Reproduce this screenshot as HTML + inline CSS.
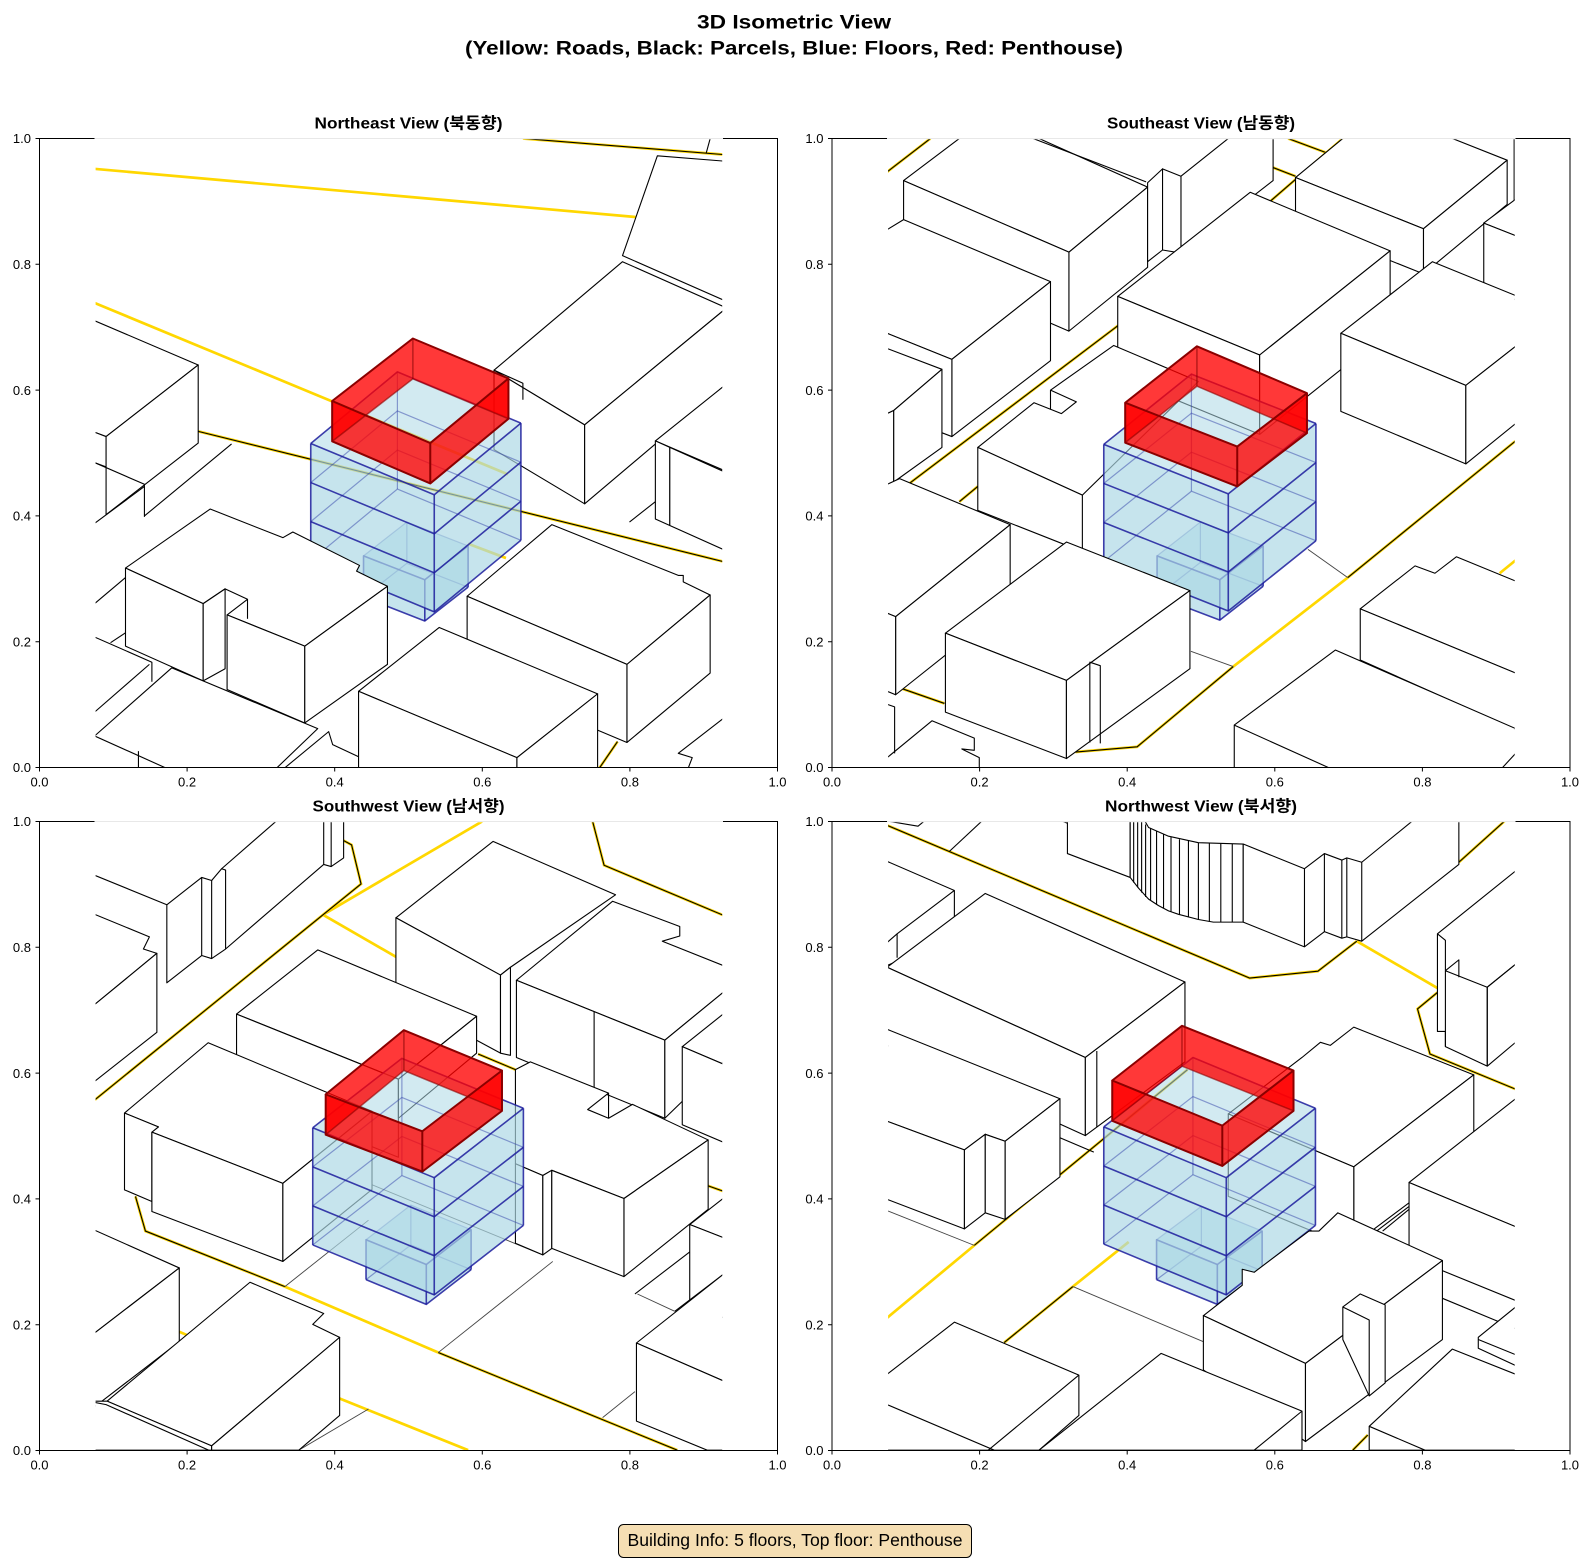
<!DOCTYPE html>
<html><head><meta charset="utf-8">
<style>
html,body{margin:0;padding:0;background:#fff;}
body{width:1590px;height:1560px;overflow:hidden;}
svg{display:block;}
text{font-family:"Liberation Sans","Noto Sans CJK KR",sans-serif;fill:#000;}
.p *{vector-effect:non-scaling-stroke;}
.w{fill:#fff;stroke:#000;stroke-width:1.1;stroke-linejoin:round;}
.wf{fill:#fff;stroke:none;}
.k{fill:none;stroke:#000;stroke-width:1.1;stroke-linejoin:round;}
.g{fill:none;stroke:#444;stroke-width:0.9;}
.y{fill:none;stroke:#FFD700;stroke-width:2.7;}
.bs{fill:#add8e6;fill-opacity:.55;stroke:none;}
.bf{fill:#add8e6;fill-opacity:.3;stroke:none;}
.bb{fill:none;stroke:#3344aa;stroke-opacity:.5;stroke-width:1.2;}
.bl{fill:none;stroke:#1c1c9c;stroke-opacity:.85;stroke-width:1.6;stroke-linejoin:round;}
.rw{fill:#ff0000;fill-opacity:.78;stroke:none;}
.re{fill:none;stroke:#8b0000;stroke-width:2;stroke-linejoin:round;}
.rb{fill:none;stroke:#8b0000;stroke-opacity:.6;stroke-width:1.5;}
.ax{fill:none;stroke:#000;stroke-width:1;}
.tl{font-size:13px;}
</style></head><body>
<svg width="1590" height="1560" viewBox="0 0 1590 1560" xmlns="http://www.w3.org/2000/svg">
<defs>
<clipPath id="c1"><rect x="95.6" y="139.3" width="626.6" height="628.2"/></clipPath>
<clipPath id="c2"><rect x="888.1" y="139.3" width="626.6" height="628.2"/></clipPath>
<clipPath id="c3"><rect x="95.6" y="822.3" width="626.6" height="627.7"/></clipPath>
<clipPath id="c4"><rect x="888.1" y="822.3" width="626.6" height="627.7"/></clipPath>
</defs>

<!-- Main title -->
<text x="794" y="28.3" text-anchor="middle" font-size="19.4" font-weight="bold" textLength="194" lengthAdjust="spacingAndGlyphs">3D Isometric View</text>
<text x="794" y="54.6" text-anchor="middle" font-size="19.4" font-weight="bold" textLength="658" lengthAdjust="spacingAndGlyphs">(Yellow: Roads, Black: Parcels, Blue: Floors, Red: Penthouse)</text>

<!-- ================= PANEL 1 (NE) ================= -->
<g clip-path="url(#c1)"><g class="p" transform="matrix(0.498 0 0 0.4339 0 100.3)">
<polyline class="y" points="190,158 1276,269"/>
<polyline class="y" points="190,467 1020,862"/>
<polyline class="y" points="940,1022 1016,1055"/>
<polyline class="y" points="398,763 1452,1063"/><polyline class="k" points="398,763 1452,1063"/>
<polyline class="y" points="1050,88 1452,125"/><polyline class="k" points="1050,88 1452,125"/>
<polyline class="y" points="1200,1545 1240,1478"/><polyline class="k" points="1200,1545 1240,1478"/>

<polygon class="w" points="1320,128 1452,140 1452,460 1250,358"/>
<polyline class="k" points="1418,122 1428,80"/>
<polygon class="w" points="992,622 1250,372 1452,475 1452,485 1174,748"/>
<polygon class="w" points="992,622 1174,748 1174,930 992,805"/>
<polygon class="w" points="1174,748 1452,485 1452,660 1174,930"/>
<polyline class="k" points="992,622 1050,652 1050,690"/>
<polygon class="w" points="1316,785 1452,660 1452,852"/>
<polygon class="w" points="1316,785 1345,800 1345,980 1316,965"/>
<polygon class="w" points="1345,800 1452,855 1452,1035 1345,980"/>
<polyline class="k" points="1264,972 1316,925"/>
<polygon class="w" points="190,508 398,610 213,775 190,765"/>
<polygon class="w" points="190,765 213,775 213,845 190,835"/>
<polygon class="w" points="213,775 398,610 398,790 213,955"/>
<polyline class="k" points="190,835 290,885 290,960"/>
<polyline class="k" points="290,958 465,792"/>
<polyline class="k" points="190,975 290,890"/>
<polyline class="k" points="190,1160 252,1100"/>
<polyline class="k" points="222,1250 255,1225"/>
<polyline class="k" points="190,1237 305,1295 305,1340"/>
<polyline class="k" points="190,1410 300,1300"/>
<polygon class="w" points="938,1143 1108,978 1362,1095 1372,1095 1372,1110 1426,1140 1259,1300"/>
<polygon class="w" points="938,1143 1259,1300 1259,1480 938,1325"/>
<polygon class="w" points="1259,1300 1426,1140 1426,1320 1259,1480"/>
<polygon class="w" points="1362,1505 1452,1425 1452,1545 1380,1545 1390,1515"/>

<!-- center -->
<polygon class="bs" points="730,1050 817,972 940,1027 940,1122 853,1200 730,1145"/>
<polygon class="bf" points="730,1050 853,1105 853,1200 730,1145"/>
<polygon class="bf" points="853,1105 940,1027 940,1122 853,1200"/>
<polyline class="bb" points="730,1050 817,972 940,1027"/><polyline class="bb" points="730,1145 817,1067 940,1122"/><polyline class="bb" points="817,972 817,1067"/>
<polyline class="bl" points="730,1145 730,1050 853,1105 940,1027 940,1122"/><polyline class="bl" points="730,1145 853,1200 940,1122"/><polyline class="bl" points="853,1105 853,1200"/>
<polygon class="bs" points="624,791 798,626 1046,744 1046,1014 872,1179 624,1061"/>
<polygon class="bf" points="624,791 872,909 872,1179 624,1061"/>
<polygon class="bf" points="872,909 1046,744 1046,1014 872,1179"/>
<polyline class="bb" points="624,881 798,716 1046,834"/><polyline class="bb" points="624,971 798,806 1046,924"/><polyline class="bb" points="624,1061 798,896 1046,1014"/><polyline class="bb" points="798,626 798,896"/>
<polyline class="bl" points="624,791 798,626 1046,744"/>
<polyline class="bl" points="624,791 872,909 1046,744"/>
<polyline class="bl" points="624,881 872,999 1046,834"/>
<polyline class="bl" points="624,971 872,1089 1046,924"/>
<polyline class="bl" points="624,1061 872,1179 1046,1014"/>
<polyline class="bl" points="624,791 624,1061"/><polyline class="bl" points="872,909 872,1179"/><polyline class="bl" points="1046,744 1046,1014"/>
<polygon class="rw" points="667,693 829,549 829,642 667,786"/>
<polygon class="rw" points="829,549 1021,641 1021,734 829,642"/>
<polygon class="rw" points="667,693 864,790 864,883 667,786"/>
<polygon class="rw" points="864,790 1021,641 1021,734 864,883"/>
<polyline class="rb" points="667,786 829,642 1021,734"/><polyline class="rb" points="829,549 829,642"/>
<polygon class="re" points="667,693 829,549 1021,641 864,790"/>
<polyline class="re" points="667,693 667,786 864,883 1021,734 1021,641"/>
<polyline class="re" points="864,790 864,883"/>

<!-- front -->
<polygon class="w" points="252,1078 422,942 568,1008 588,995 722,1072 716,1085 778,1120 612,1258 456,1186 497,1150 452,1126 408,1160"/>
<polygon class="w" points="252,1078 408,1160 408,1338 252,1258"/>
<polygon class="w" points="408,1160 452,1126 452,1310 408,1338"/>
<polyline class="k" points="497,1150 497,1195"/>
<polygon class="w" points="456,1186 612,1258 612,1435 456,1358"/>
<polygon class="w" points="612,1258 778,1120 778,1300 612,1435"/>
<polygon class="w" points="190,1465 345,1308 638,1448 550,1545 190,1545"/>
<polyline class="k" points="190,1465 345,1545"/>
<polyline class="k" points="278,1500 278,1545"/>
<polyline class="k" points="565,1545 660,1455 668,1485 780,1545"/>
<polygon class="w" points="720,1362 882,1215 1200,1368 1038,1515"/>
<polygon class="w" points="720,1362 1038,1515 1038,1545 720,1545"/>
<polygon class="w" points="1038,1515 1200,1368 1200,1545 1038,1545"/>
</g></g>

<!-- ================= PANEL 2 (SE) ================= -->
<g clip-path="url(#c2)"><g class="p" transform="matrix(0.498 0 0 0.4339 800 100.3)">
<polyline class="y" points="870,1305 1100,1100"/>
<polyline class="y" points="1405,1090 1437,1060"/>
<polyline class="y" points="175,165 262,88"/><polyline class="k" points="175,165 262,88"/>
<polyline class="y" points="980,88 1055,120"/><polyline class="k" points="980,88 1055,120"/>
<polyline class="y" points="945,232 1090,88"/><polyline class="k" points="945,232 1090,88"/>
<polyline class="y" points="200,900 640,518"/><polyline class="k" points="200,900 640,518"/>
<polyline class="y" points="320,925 357,890"/><polyline class="k" points="320,925 357,890"/>
<polyline class="y" points="553,1502 677,1490 870,1305"/><polyline class="k" points="553,1502 677,1490 870,1305"/>
<polyline class="y" points="1100,1100 1437,785"/><polyline class="k" points="1100,1100 1437,785"/>
<polyline class="y" points="190,1350 290,1390"/><polyline class="k" points="190,1350 290,1390"/>
<polyline class="y" points="950,155 995,175"/><polyline class="k" points="950,155 995,175"/>
<polyline class="g" points="785,1270 870,1305"/>
<polyline class="g" points="1020,1035 1100,1100"/>

<polygon class="w" points="208,185 320,88 480,88 698,200 540,350"/>
<polygon class="w" points="540,350 698,200 698,385 540,532"/>
<polygon class="w" points="208,185 540,350 540,532 208,367"/>
<polyline class="k" points="468,88 695,188"/>
<polygon class="w" points="765,175 860,88 950,88 950,185 765,350"/>
<polygon class="w" points="698,190 728,158 728,345 698,372"/>
<polygon class="w" points="728,158 765,175 765,352 728,345"/>
<polyline class="k" points="785,350 785,320 820,340 790,365"/>
<polygon class="w" points="995,178 1090,88 1310,88 1420,138 1252,296"/>
<polygon class="w" points="995,178 1252,296 1252,400 995,282"/>
<polygon class="w" points="1252,296 1420,138 1420,240 1252,400"/>
<polyline class="k" points="1434,88 1434,230"/>
<polygon class="w" points="1373,283 1437,228 1437,312"/>
<polygon class="w" points="1373,283 1437,312 1437,460 1373,420"/>
<polygon class="w" points="638,452 904,212 1185,347 923,587"/>
<polygon class="w" points="638,452 923,587 923,770 638,635"/>
<polygon class="w" points="923,587 1185,347 1185,530 923,770"/>
<polygon class="w" points="1086,537 1270,372 1437,450 1437,567 1337,657"/>
<polygon class="w" points="1086,537 1337,657 1337,838 1086,717"/>
<polygon class="w" points="1337,657 1437,567 1437,745 1337,838"/>
<polygon class="w" points="175,298 208,275 503,418 305,597 175,537"/>
<polygon class="w" points="305,597 503,418 503,600 305,775"/>
<polygon class="w" points="175,537 305,597 305,775 175,718"/>
<polygon class="w" points="175,572 285,620 188,715 175,722"/>
<polygon class="w" points="188,715 285,620 285,800 188,880"/>
<polygon class="w" points="175,722 188,715 188,880 175,886"/>
<polygon class="w" points="357,800 470,697 503,712 503,668 630,565 800,648 567,910"/>
<polygon class="w" points="357,800 567,910 567,1040 357,945"/>
<polyline class="k" points="503,712 525,722 555,695 503,668"/>
<polygon class="w" points="175,885 200,872 422,978 192,1190 175,1182"/>
<polygon class="w" points="192,1190 422,978 422,1160 192,1370"/>
<polygon class="w" points="175,1182 192,1190 192,1370 175,1362"/>

<!-- center -->
<polygon class="bs" points="717,1050 804,972 930,1027 930,1120 843,1198 717,1143"/>
<polygon class="bf" points="717,1050 843,1105 843,1198 717,1143"/>
<polygon class="bf" points="843,1105 930,1027 930,1120 843,1198"/>
<polyline class="bb" points="717,1050 804,972 930,1027"/><polyline class="bb" points="717,1143 804,1065 930,1120"/><polyline class="bb" points="804,972 804,1065"/>
<polyline class="bl" points="717,1143 717,1050 843,1105 930,1027 930,1120"/><polyline class="bl" points="717,1143 843,1198 930,1120"/><polyline class="bl" points="843,1105 843,1198"/>
<polygon class="bs" points="610,793 786,631 1036,745 1036,1015 860,1177 610,1063"/>
<polygon class="bf" points="610,793 860,907 860,1177 610,1063"/>
<polygon class="bf" points="860,907 1036,745 1036,1015 860,1177"/>
<polyline class="bb" points="610,883 786,721 1036,835"/><polyline class="bb" points="610,973 786,811 1036,925"/><polyline class="bb" points="610,1063 786,901 1036,1015"/><polyline class="bb" points="786,631 786,901"/>
<polyline class="bl" points="610,793 786,631 1036,745"/>
<polyline class="bl" points="610,793 860,907 1036,745"/>
<polyline class="bl" points="610,883 860,997 1036,835"/>
<polyline class="bl" points="610,973 860,1087 1036,925"/>
<polyline class="bl" points="610,1063 860,1177 1036,1015"/>
<polyline class="bl" points="610,793 610,1063"/><polyline class="bl" points="860,907 860,1177"/><polyline class="bl" points="1036,745 1036,1015"/>
<polygon class="rw" points="653,697 797,567 797,659 653,789"/>
<polygon class="rw" points="797,567 1018,675 1018,767 797,659"/>
<polygon class="rw" points="653,697 878,798 878,890 653,789"/>
<polygon class="rw" points="878,798 1018,675 1018,767 878,890"/>
<polyline class="rb" points="653,789 797,659 1018,767"/><polyline class="rb" points="797,567 797,659"/>
<polygon class="re" points="653,697 797,567 1018,675 878,798"/>
<polyline class="re" points="653,697 653,789 878,890 1018,767 1018,675"/>
<polyline class="re" points="878,798 878,890"/>

<!-- front -->
<polygon class="w" points="292,1228 535,1018 783,1130 535,1337"/>
<polygon class="w" points="292,1228 535,1337 535,1517 292,1410"/>
<polygon class="w" points="535,1337 783,1130 783,1310 535,1517"/>
<polyline class="k" points="582,1480 582,1295 603,1303 603,1482"/>
<polygon class="w" points="175,1515 265,1430 350,1470 350,1498 325,1495 360,1515 360,1545 175,1545"/>
<polyline class="k" points="175,1392 190,1398 190,1505"/>
<polygon class="w" points="1125,1172 1235,1073 1275,1090 1318,1052 1437,1108 1437,1320"/>
<polygon class="w" points="1125,1172 1437,1320 1437,1450 1125,1290"/>
<polygon class="w" points="872,1440 1075,1267 1437,1448 1437,1545 872,1545"/>
<polyline class="k" points="872,1440 1075,1545"/>
<polyline class="k" points="1405,1545 1437,1505"/>
</g></g>

<!-- ================= PANEL 3 (SW) ================= -->
<g clip-path="url(#c3)"><g class="p" transform="matrix(0.498 0 0 0.4339 0 779.8)">
<polyline class="y" points="650,310 968,96"/>
<polyline class="y" points="650,312 795,408"/>
<polyline class="y" points="572,1168 880,1320"/>
<polyline class="y" points="680,1425 940,1545"/>
<polyline class="y" points="360,1272 380,1282"/>
<polyline class="y" points="690,140 706,150 725,240 190,738"/><polyline class="k" points="690,140 706,150 725,240 190,738"/>
<polyline class="y" points="1190,96 1213,197 1452,312"/><polyline class="k" points="1190,96 1213,197 1452,312"/>
<polyline class="y" points="960,632 1035,668"/><polyline class="k" points="960,632 1035,668"/>
<polyline class="y" points="1420,935 1452,948"/><polyline class="k" points="1420,935 1452,948"/>
<polyline class="y" points="272,960 292,1040 572,1168"/><polyline class="k" points="272,960 292,1040 572,1168"/>
<polyline class="y" points="880,1320 1360,1545"/><polyline class="k" points="880,1320 1360,1545"/>
<polyline class="g" points="572,1168 740,1015"/>
<polyline class="g" points="880,1320 1110,1110"/>
<polyline class="g" points="740,930 1090,1095"/>
<polyline class="g" points="1210,1470 1275,1410"/>
<polyline class="g" points="600,1545 740,1450"/>
<polyline class="g" points="1280,1185 1355,1225"/>

<polyline class="k" points="190,220 335,288 335,468 405,405 425,412 453,390 650,195 650,90"/>
<polyline class="k" points="335,288 405,225 405,405"/>
<polyline class="k" points="405,225 425,232 425,412"/>
<polyline class="k" points="425,232 445,205 453,208 453,390"/>
<polyline class="k" points="445,205 560,90"/>
<polyline class="k" points="650,195 665,200 690,180 690,90"/>
<polyline class="k" points="665,90 665,200"/>
<polygon class="w" points="190,310 300,362 288,390 315,400 190,518"/>
<polygon class="w" points="190,518 315,400 315,582 190,695"/>
<polygon class="w" points="795,318 990,142 1236,265 1025,432 1005,450"/>
<polygon class="w" points="795,318 1005,450 1005,630 795,500"/>
<polygon class="w" points="1005,450 1025,432 1025,635 1005,630"/>
<polygon class="w" points="1037,462 1230,280 1365,338 1365,360 1330,372 1452,428 1452,490 1335,600"/>
<polygon class="w" points="1037,462 1335,600 1335,780 1037,640"/>
<polygon class="w" points="1335,600 1452,490 1452,650 1335,780"/>
<polyline class="k" points="1193,534 1193,710"/>
<polygon class="w" points="1370,615 1452,540 1452,655"/>
<polygon class="w" points="1370,615 1452,655 1452,835 1370,795"/>
<polygon class="w" points="475,540 638,392 957,545 800,690"/>
<polygon class="w" points="475,540 800,690 800,870 475,720"/>
<polygon class="w" points="800,690 957,545 957,630 800,780"/>
<polygon class="w" points="250,768 418,606 747,764 568,930 305,812 318,800"/>
<polygon class="w" points="250,768 318,800 305,812 305,972 250,945"/>
<polygon class="w" points="305,812 568,930 568,1110 305,995"/>
<polygon class="w" points="568,930 747,764 747,944 568,1110"/>
<polygon class="w" points="1035,668 1065,650 1222,722 1180,760 1222,780 1270,748 1422,830 1253,965 1108,900 1090,912 1035,885"/>
<polygon class="w" points="1035,885 1090,912 1090,1095 1035,1068"/>
<polygon class="w" points="1090,912 1108,900 1108,1080 1090,1095"/>
<polygon class="w" points="1108,900 1253,965 1253,1145 1108,1080"/>
<polygon class="w" points="1253,965 1422,830 1422,990 1253,1145"/>
<polyline class="k" points="1222,722 1222,780"/>
<polyline class="k" points="1275,1185 1385,1088"/>
<polygon class="w" points="1385,1025 1452,965 1452,1055"/>
<polygon class="w" points="1385,1025 1452,1055 1452,1240 1385,1200"/>
<polyline class="k" points="1355,1225 1452,1140"/>
<polygon class="w" points="190,1038 360,1125 190,1275"/>
<polygon class="w" points="190,1275 360,1125 360,1295 190,1445"/>

<!-- center -->
<polygon class="bs" points="735,1060 825,980 946,1037 946,1129 856,1209 735,1152"/>
<polygon class="bf" points="735,1060 856,1117 856,1209 735,1152"/>
<polygon class="bf" points="856,1117 946,1037 946,1129 856,1209"/>
<polyline class="bb" points="735,1060 825,980 946,1037"/><polyline class="bb" points="735,1152 825,1072 946,1129"/><polyline class="bb" points="825,980 825,1072"/>
<polyline class="bl" points="735,1152 735,1060 856,1117 946,1037 946,1129"/><polyline class="bl" points="735,1152 856,1209 946,1129"/><polyline class="bl" points="856,1117 856,1209"/>
<polygon class="bs" points="628,802 807,642 1051,757 1051,1027 872,1187 628,1072"/>
<polygon class="bf" points="628,802 872,917 872,1187 628,1072"/>
<polygon class="bf" points="872,917 1051,757 1051,1027 872,1187"/>
<polyline class="bb" points="628,892 807,732 1051,847"/><polyline class="bb" points="628,982 807,822 1051,937"/><polyline class="bb" points="628,1072 807,912 1051,1027"/><polyline class="bb" points="807,642 807,912"/>
<polyline class="bl" points="628,802 807,642 1051,757"/>
<polyline class="bl" points="628,802 872,917 1051,757"/>
<polyline class="bl" points="628,892 872,1007 1051,847"/>
<polyline class="bl" points="628,982 872,1097 1051,937"/>
<polyline class="bl" points="628,1072 872,1187 1051,1027"/>
<polyline class="bl" points="628,802 628,1072"/><polyline class="bl" points="872,917 872,1187"/><polyline class="bl" points="1051,757 1051,1027"/>
<polygon class="rw" points="654,725 811,577 811,670 654,818"/>
<polygon class="rw" points="811,577 1008,670 1008,763 811,670"/>
<polygon class="rw" points="654,725 848,810 848,903 654,818"/>
<polygon class="rw" points="848,810 1008,670 1008,763 848,903"/>
<polyline class="rb" points="654,818 811,670 1008,763"/><polyline class="rb" points="811,577 811,670"/>
<polygon class="re" points="654,725 811,577 1008,670 848,810"/>
<polyline class="re" points="654,725 654,818 848,903 1008,763 1008,670"/>
<polyline class="re" points="848,810 848,903"/>

<!-- front -->
<polygon class="w" points="1278,1298 1452,1140 1452,1385"/>
<polygon class="w" points="1278,1298 1452,1385 1452,1545 1420,1545 1278,1478"/>
<polygon class="w" points="215,1432 502,1158 650,1230 628,1255 682,1285 425,1535"/>
<polygon class="w" points="190,1432 215,1432 425,1535 425,1545 190,1545"/>
<polygon class="w" points="425,1535 682,1285 682,1465 600,1545 425,1545"/>
<polyline class="k" points="190,1435 213,1440 425,1548"/>
</g></g>

<!-- ================= PANEL 4 (NW) ================= -->
<g clip-path="url(#c4)"><g class="p" transform="matrix(0.498 0 0 0.4339 800 779.8)">
<polyline class="y" points="1118,372 1280,480"/>
<polyline class="y" points="175,1240 350,1073"/>
<polyline class="y" points="548,1168 660,1065"/>
<polyline class="y" points="175,105 903,457 1040,441 1118,372"/><polyline class="k" points="175,105 903,457 1040,441 1118,372"/>
<polyline class="y" points="1323,190 1415,95"/><polyline class="k" points="1323,190 1415,95"/>
<polyline class="y" points="1280,490 1240,528 1265,632 1437,713"/><polyline class="k" points="1280,490 1240,528 1265,632 1437,713"/>
<polyline class="y" points="350,1073 778,668"/><polyline class="k" points="350,1073 778,668"/>
<polyline class="y" points="410,1297 548,1168"/><polyline class="k" points="410,1297 548,1168"/>
<polyline class="y" points="1110,1545 1140,1510"/><polyline class="k" points="1110,1545 1140,1510"/>
<polyline class="g" points="548,1168 810,1295"/>
<polyline class="g" points="175,993 350,1073"/>

<polyline class="k" points="175,95 237,107 255,90"/>
<polyline class="k" points="300,165 370,90"/>
<polyline class="k" points="515,90 537,100"/>
<polygon class="w" points="537,90 663,90 663,225 537,170"/>
<polygon class="wf" points="663,90 890,90 890,328 830,328 760,310 700,275 663,225"/>
<polyline class="k" points="690,90 700,110 740,130 800,145 890,148"/>
<polyline class="k" points="663,225 680,250 700,275 720,290 740,302 760,310 800,322 830,328 890,328"/>
<path class="k" d="M663,90V225M670,90V237M678,90V248M686,90V260M694,103V270M704,112V278M716,118V288M730,125V296M745,132V304M762,137V311M780,141V317M800,145V322M822,146V327M845,147V328M868,148V328M890,148V328"/>
<polygon class="w" points="890,148 1013,205 1053,170 1088,185 1098,180 1128,190 1235,90 1323,90 1323,195 1128,372 1098,362 1088,365 1053,350 1013,385 890,328"/>
<path class="k" d="M1013,205V385M1053,170V350M1088,185V365M1098,180V362M1128,190V372"/>
<polygon class="w" points="175,188 310,255 310,318 195,418 175,428"/>
<polyline class="k" points="310,255 195,355 195,410"/>
<polyline class="k" points="175,375 195,355"/>
<polygon class="w" points="1280,355 1437,210 1437,425 1380,478 1380,660 1296,615 1296,580 1280,580"/>
<polyline class="k" points="1296,440 1323,415 1323,455"/>
<polyline class="k" points="1296,440 1380,478 1437,425"/>
<polyline class="k" points="1380,478 1380,660"/>
<polyline class="k" points="1380,660 1437,605"/>
<polyline class="k" points="1296,440 1296,615"/>
<polyline class="k" points="1280,355 1296,370 1296,440"/>
<polygon class="w" points="175,432 372,262 773,466 573,640"/>
<polygon class="w" points="175,432 573,640 573,820 175,612"/>
<polygon class="w" points="573,640 773,466 773,650 573,820"/>
<polyline class="k" points="596,625 596,800"/>
<polygon class="w" points="175,575 522,735 412,833 372,817 330,853 175,787"/>
<polygon class="w" points="330,853 372,817 372,998 330,1035"/>
<polygon class="w" points="372,817 412,833 412,1013 372,998"/>
<polygon class="w" points="412,833 522,735 522,915 412,1013"/>
<polygon class="w" points="175,787 330,853 330,1035 175,967"/>
<polyline class="k" points="522,825 590,858"/>
<polygon class="w" points="860,770 1008,640 1045,605 1065,612 1112,570 1353,680 1112,892"/>
<polygon class="w" points="1112,892 1353,680 1353,870 1112,1080"/>
<polygon class="w" points="860,770 1112,892 1112,1080 860,960"/>
<polygon class="w" points="1223,928 1437,735 1437,1030"/>
<polygon class="w" points="1223,928 1437,1030 1437,1200 1223,1100"/>
<polyline class="k" points="1153,1035 1223,975"/>
<polyline class="k" points="1170,1040 1223,990"/>

<!-- center -->
<polygon class="bs" points="716,1060 806,983 928,1040 928,1132 838,1209 716,1152"/>
<polygon class="bf" points="716,1060 838,1117 838,1209 716,1152"/>
<polygon class="bf" points="838,1117 928,1040 928,1132 838,1209"/>
<polyline class="bb" points="716,1060 806,983 928,1040"/><polyline class="bb" points="716,1152 806,1075 928,1132"/><polyline class="bb" points="806,983 806,1075"/>
<polyline class="bl" points="716,1152 716,1060 838,1117 928,1040 928,1132"/><polyline class="bl" points="716,1152 838,1209 928,1132"/><polyline class="bl" points="838,1117 838,1209"/>
<polygon class="bs" points="610,800 789,640 1035,757 1035,1027 856,1187 610,1070"/>
<polygon class="bf" points="610,800 856,917 856,1187 610,1070"/>
<polygon class="bf" points="856,917 1035,757 1035,1027 856,1187"/>
<polyline class="bb" points="610,890 789,730 1035,847"/><polyline class="bb" points="610,980 789,820 1035,937"/><polyline class="bb" points="610,1070 789,910 1035,1027"/><polyline class="bb" points="789,640 789,910"/>
<polyline class="bl" points="610,800 789,640 1035,757"/>
<polyline class="bl" points="610,800 856,917 1035,757"/>
<polyline class="bl" points="610,890 856,1007 1035,847"/>
<polyline class="bl" points="610,980 856,1097 1035,937"/>
<polyline class="bl" points="610,1070 856,1187 1035,1027"/>
<polyline class="bl" points="610,800 610,1070"/><polyline class="bl" points="856,917 856,1187"/><polyline class="bl" points="1035,757 1035,1027"/>
<polygon class="rw" points="627,693 767,567 767,660 627,786"/>
<polygon class="rw" points="767,567 991,670 991,763 767,660"/>
<polygon class="rw" points="627,693 848,797 848,890 627,786"/>
<polygon class="rw" points="848,797 991,670 991,763 848,890"/>
<polyline class="rb" points="627,786 767,660 991,763"/><polyline class="rb" points="767,567 767,660"/>
<polygon class="re" points="627,693 767,567 991,670 848,797"/>
<polyline class="re" points="627,693 627,786 848,890 991,763 991,670"/>
<polyline class="re" points="848,797 848,890"/>

<!-- front -->
<polygon class="w" points="810,1235 888,1165 888,1128 912,1135 1022,1040 1042,1040 1080,998 1290,1108 1015,1345"/>
<polygon class="w" points="810,1235 1015,1345 1015,1525 810,1360"/>
<polygon class="w" points="1015,1345 1290,1108 1290,1290 1015,1525"/>
<polygon class="w" points="1090,1215 1125,1185 1175,1210 1175,1390 1143,1420 1090,1290"/>
<polyline class="k" points="1090,1215 1143,1245 1143,1420"/>
<polyline class="k" points="1290,1195 1437,1265"/>
<polygon class="w" points="1362,1285 1437,1215 1437,1350 1362,1310"/>
<polyline class="k" points="1362,1290 1437,1325"/>
<polygon class="w" points="175,1370 310,1250 560,1372 560,1465 480,1545 175,1545"/>
<polyline class="k" points="560,1372 378,1545"/>
<polyline class="k" points="175,1440 390,1545"/>
<polygon class="w" points="480,1545 725,1322 1008,1455 1008,1545"/>
<polyline class="k" points="912,1545 1008,1455"/>
<polygon class="w" points="1143,1490 1310,1312 1437,1370 1437,1545 1143,1545"/>
<polyline class="k" points="1143,1490 1255,1545"/>
</g></g>

<!-- ================= AXES FRAMES ================= -->
<g>
<path class="ax" d="M39.5,138.5V767.5H777.5V138.5H723M94.5,138.5H39.5"/>
<path d="M94.5,138.5H723" stroke="#e8e8e8" stroke-width="1" fill="none"/>
<path class="ax" d="M35.5,138.5H39.5M35.5,264.3H39.5M35.5,390.1H39.5M35.5,515.9H39.5M35.5,641.7H39.5M35.5,767.5H39.5M39.5,767.5V771.5M187.1,767.5V771.5M334.7,767.5V771.5M482.3,767.5V771.5M629.9,767.5V771.5M777.5,767.5V771.5"/>
<g class="tl" text-anchor="end">
<text x="31" y="143.2">1.0</text><text x="31" y="269">0.8</text><text x="31" y="394.8">0.6</text><text x="31" y="520.6">0.4</text><text x="31" y="646.4">0.2</text><text x="31" y="772.2">0.0</text>
</g>
<g class="tl" text-anchor="middle">
<text x="39.5" y="786.5">0.0</text><text x="187.1" y="786.5">0.2</text><text x="334.7" y="786.5">0.4</text><text x="482.3" y="786.5">0.6</text><text x="629.9" y="786.5">0.8</text><text x="777.5" y="786.5">1.0</text>
</g>
<text x="408.5" y="128.5" text-anchor="middle" font-size="16" font-weight="bold" textLength="188" lengthAdjust="spacingAndGlyphs">Northeast View (북동향)</text>
</g>

<g transform="translate(792.5,0)">
<path class="ax" d="M39.5,138.5V767.5H777.5V138.5H723M94.5,138.5H39.5"/>
<path d="M94.5,138.5H723" stroke="#e8e8e8" stroke-width="1" fill="none"/>
<path class="ax" d="M35.5,138.5H39.5M35.5,264.3H39.5M35.5,390.1H39.5M35.5,515.9H39.5M35.5,641.7H39.5M35.5,767.5H39.5M39.5,767.5V771.5M187.1,767.5V771.5M334.7,767.5V771.5M482.3,767.5V771.5M629.9,767.5V771.5M777.5,767.5V771.5"/>
<g class="tl" text-anchor="end">
<text x="31" y="143.2">1.0</text><text x="31" y="269">0.8</text><text x="31" y="394.8">0.6</text><text x="31" y="520.6">0.4</text><text x="31" y="646.4">0.2</text><text x="31" y="772.2">0.0</text>
</g>
<g class="tl" text-anchor="middle">
<text x="39.5" y="786.5">0.0</text><text x="187.1" y="786.5">0.2</text><text x="334.7" y="786.5">0.4</text><text x="482.3" y="786.5">0.6</text><text x="629.9" y="786.5">0.8</text><text x="777.5" y="786.5">1.0</text>
</g>
<text x="408.5" y="128.5" text-anchor="middle" font-size="16" font-weight="bold" textLength="188" lengthAdjust="spacingAndGlyphs">Southeast View (남동향)</text>
</g>

<g transform="translate(0,683)">
<path class="ax" d="M39.5,138.5V767.5H777.5V138.5H723M94.5,138.5H39.5"/>
<path d="M94.5,138.5H723" stroke="#e8e8e8" stroke-width="1" fill="none"/>
<path class="ax" d="M35.5,138.5H39.5M35.5,264.3H39.5M35.5,390.1H39.5M35.5,515.9H39.5M35.5,641.7H39.5M35.5,767.5H39.5M39.5,767.5V771.5M187.1,767.5V771.5M334.7,767.5V771.5M482.3,767.5V771.5M629.9,767.5V771.5M777.5,767.5V771.5"/>
<g class="tl" text-anchor="end">
<text x="31" y="143.2">1.0</text><text x="31" y="269">0.8</text><text x="31" y="394.8">0.6</text><text x="31" y="520.6">0.4</text><text x="31" y="646.4">0.2</text><text x="31" y="772.2">0.0</text>
</g>
<g class="tl" text-anchor="middle">
<text x="39.5" y="786.5">0.0</text><text x="187.1" y="786.5">0.2</text><text x="334.7" y="786.5">0.4</text><text x="482.3" y="786.5">0.6</text><text x="629.9" y="786.5">0.8</text><text x="777.5" y="786.5">1.0</text>
</g>
<text x="408.5" y="128.5" text-anchor="middle" font-size="16" font-weight="bold" textLength="192" lengthAdjust="spacingAndGlyphs">Southwest View (남서향)</text>
</g>

<g transform="translate(792.5,683)">
<path class="ax" d="M39.5,138.5V767.5H777.5V138.5H723M94.5,138.5H39.5"/>
<path d="M94.5,138.5H723" stroke="#e8e8e8" stroke-width="1" fill="none"/>
<path class="ax" d="M35.5,138.5H39.5M35.5,264.3H39.5M35.5,390.1H39.5M35.5,515.9H39.5M35.5,641.7H39.5M35.5,767.5H39.5M39.5,767.5V771.5M187.1,767.5V771.5M334.7,767.5V771.5M482.3,767.5V771.5M629.9,767.5V771.5M777.5,767.5V771.5"/>
<g class="tl" text-anchor="end">
<text x="31" y="143.2">1.0</text><text x="31" y="269">0.8</text><text x="31" y="394.8">0.6</text><text x="31" y="520.6">0.4</text><text x="31" y="646.4">0.2</text><text x="31" y="772.2">0.0</text>
</g>
<g class="tl" text-anchor="middle">
<text x="39.5" y="786.5">0.0</text><text x="187.1" y="786.5">0.2</text><text x="334.7" y="786.5">0.4</text><text x="482.3" y="786.5">0.6</text><text x="629.9" y="786.5">0.8</text><text x="777.5" y="786.5">1.0</text>
</g>
<text x="408.5" y="128.5" text-anchor="middle" font-size="16" font-weight="bold" textLength="192" lengthAdjust="spacingAndGlyphs">Northwest View (북서향)</text>
</g>

<!-- Info box -->
<rect x="618.5" y="1524.5" width="353" height="33" rx="5" ry="5" fill="#F5DEB3" stroke="#000" stroke-width="1"/>
<text x="795" y="1546" text-anchor="middle" font-size="17.4" textLength="335" lengthAdjust="spacingAndGlyphs">Building Info: 5 floors, Top floor: Penthouse</text>
</svg>
</body></html>
